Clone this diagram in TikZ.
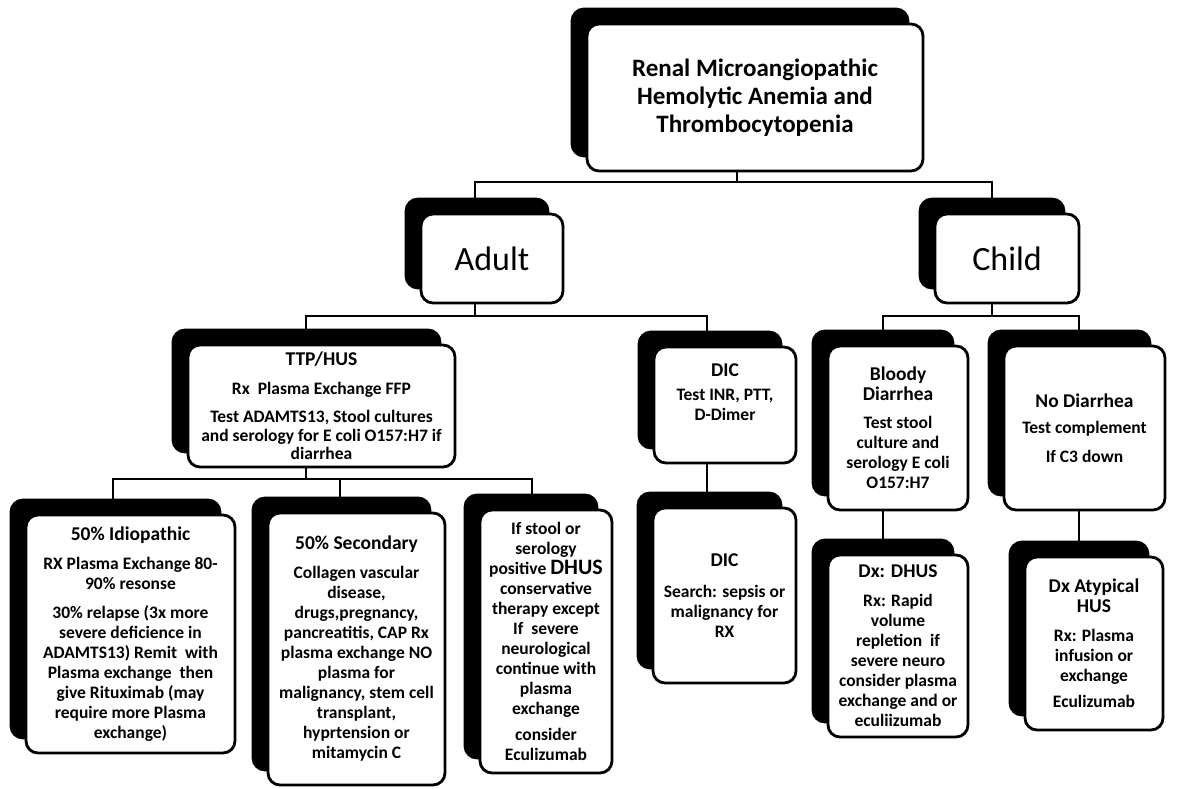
\documentclass[tikz,border=0pt]{standalone}
\usepackage{fontspec}
\setmainfont{Carlito}
\usetikzlibrary{shadows,calc}
\newcommand{\hdf}{\fontsize{19.5}{21}\selectfont}
\tikzset{
  box/.style={draw=black, line width=2.8pt, fill=white, rounded corners=12pt,
    align=center, inner sep=2pt,
    general shadow={shadow xshift=-15pt, shadow yshift=15pt, fill=black, draw=black, line width=2.8pt},
    font=\bfseries\fontsize{17.5}{20}\selectfont},
  bigbox/.style={box, font=\fontsize{34}{40}\selectfont},
  conn/.style={draw=black, line width=2.3pt}
}
\begin{document}
\begin{tikzpicture}[x=1pt, y=-1pt]
\fill[white] (0,0) rectangle (1177,789);
\useasboundingbox (0,0) rectangle (1177,789);

% top
\node[box, minimum width=336pt, minimum height=147pt, font=\bfseries\fontsize{25}{28}\selectfont] (title) at (755,97.5)
  {Renal Microangiopathic\\Hemolytic Anemia and\\Thrombocytopenia};

\node[bigbox, minimum width=142pt, minimum height=89pt] (adult) at (492,258.5) {Adult};
\node[bigbox, minimum width=144pt, minimum height=89pt] (child) at (1007,258.5) {Child};

% second level
\node[box, minimum width=267pt, minimum height=122pt, font=\bfseries\fontsize{17.5}{18.5}\selectfont] (ttp) at (321.5,406)
  {{\hdf TTP/HUS}\\[10pt]Rx~~Plasma Exchange FFP\\[10pt]Test ADAMTS13, Stool cultures\\and serology for E coli O157:H7 if\\diarrhea};
\node[box, minimum width=142pt, minimum height=116pt] (dic) at (725,405)
  {{\hdf DIC}\\[4pt]Test INR, PTT,\\D-Dimer\\\strut};
\node[box, minimum width=140pt, minimum height=164pt] (bloody) at (898,428)
  {{\hdf Bloody}\\{\hdf Diarrhea}\\[8pt]Test stool\\culture and\\serology E coli\\O157:H7};
\node[box, minimum width=161pt, minimum height=164pt] (nod) at (1084.5,428)
  {{\hdf No Diarrhea}\\[6pt]Test complement\\[9pt]If C3 down};

% third level
\node[box, minimum width=209pt, minimum height=238pt] (idio) at (130.5,634)
  {{\hdf 50\% Idiopathic}\\[9pt]RX Plasma Exchange 80-\\90\% resonse\\[9pt]30\% relapse (3x more\\severe deficience in\\ADAMTS13) Remit~~with\\Plasma exchange~~then\\give Rituximab (may\\require more Plasma\\exchange)};
\node[box, minimum width=177pt, minimum height=272pt] (second) at (356.5,649)
  {{\hdf 50\% Secondary}\\[9pt]Collagen vascular\\disease,\\drugs,pregnancy,\\pancreatitis, CAP Rx\\plasma exchange NO\\plasma for\\malignancy, stem cell\\transplant,\\hyprtension or\\mitamycin C};
\node[box, minimum width=132pt, minimum height=263pt] (dhus) at (546,641.5)
  {If stool or\\serology\\positive {\fontsize{22}{20}\selectfont DHUS}\\conservative\\therapy except\\If~~severe\\neurological\\continue with\\plasma\\exchange\\[6pt]consider\\Eculizumab};
\node[box, minimum width=143pt, minimum height=175pt] (dic2) at (724.5,595.5)
  {{\hdf DIC}\\[11pt]Search: sepsis or\\malignancy for\\RX};
\node[box, minimum width=140pt, minimum height=182pt] (dxdhus) at (898,646)
  {{\hdf Dx: DHUS}\\[9pt]Rx: Rapid\\volume\\repletion~~if\\severe neuro\\consider plasma\\exchange and or\\eculiizumab};
\node[box, minimum width=138pt, minimum height=173pt] (atyp) at (1094,643.5)
  {{\hdf Dx Atypical}\\{\hdf HUS}\\[9pt]Rx: Plasma\\infusion or\\exchange\\[6pt]Eculizumab};

% connector positions
\coordinate (xT) at (737,0);
\coordinate (xA) at (475,0);
\coordinate (xC) at (992,0);
\coordinate (xTTP) at (306,0);
\coordinate (xDIC) at (707,0);
\coordinate (xBl) at (883,0);
\coordinate (xND) at (1079,0);
\coordinate (xI) at (113,0);
\coordinate (xS) at (340,0);
\coordinate (xDH) at (532,0);
\coordinate (bus1) at (0,182);
\coordinate (bus2) at (0,316);
\coordinate (bus3) at (0,479);

\draw[conn] (title.south -| xT) -- (bus1 -| xT);
\draw[conn] (adult.north -| xA) |- (bus1 -| xT) -| (child.north -| xC);

\draw[conn] (adult.south -| xA) -- (bus2 -| xA);
\draw[conn] (ttp.north -| xTTP) |- (bus2 -| xA) -| (dic.north -| xDIC);
\draw[conn] (child.south -| xC) -- (bus2 -| xC);
\draw[conn] (bloody.north -| xBl) |- (bus2 -| xC) -| (nod.north -| xND);

\draw[conn] (ttp.south -| xTTP) -- (bus3 -| xTTP);
\draw[conn] (idio.north -| xI) |- (bus3 -| xTTP) -| (dhus.north -| xDH);
\draw[conn] (second.north -| xS) -- (bus3 -| xS);

\draw[conn] (dic.south -| xDIC) -- (dic2.north -| xDIC);
\draw[conn] (bloody.south -| xBl) -- (dxdhus.north -| xBl);
\draw[conn] (nod.south -| xND) -- (atyp.north -| xND);
\end{tikzpicture}
\end{document}
